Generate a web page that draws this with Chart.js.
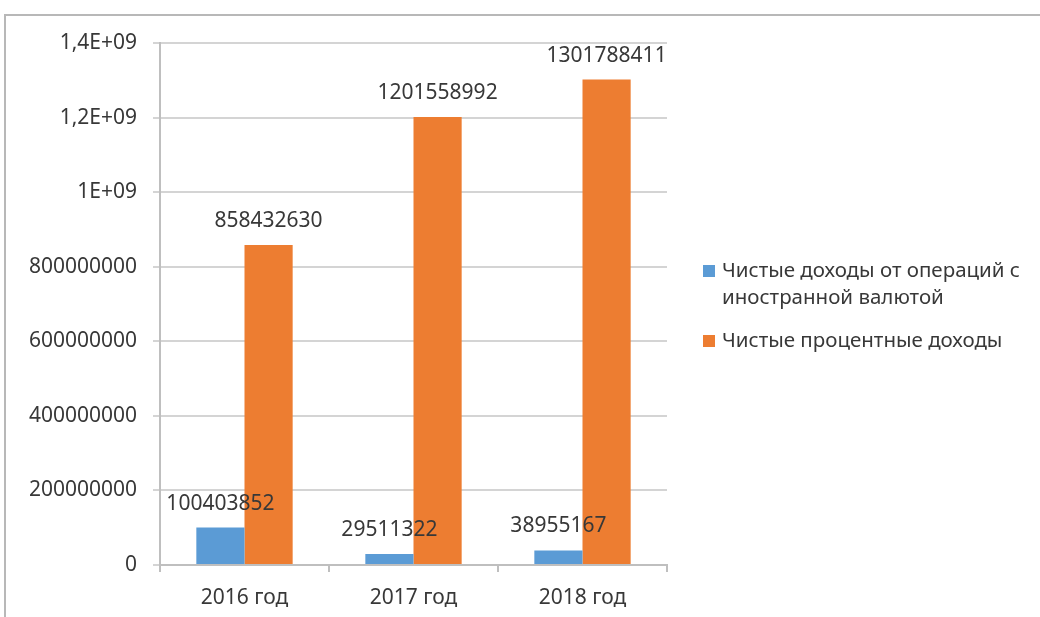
<!DOCTYPE html>
<html><head><meta charset="utf-8">
<script src="https://cdn.jsdelivr.net/npm/chart.js@4"></script>
<style>
html,body{margin:0;padding:0;background:#fff;}
#frame{position:absolute;left:4px;top:14px;width:1040px;height:610px;border-left:2px solid #b8b8b8;border-top:2px solid #b8b8b8;}
#wrap{position:absolute;left:0;top:0;width:1040px;height:617px;}
</style></head>
<body>
<div id="frame"></div>
<div id="wrap"><canvas id="c" width="1040" height="617"></canvas></div>
<script>
const categories = ['2016 год', '2017 год', '2018 год'];
const seriesNames = [['Чистые доходы от операций с', 'иностранной валютой'], ['Чистые процентные доходы']];
const fxIncome = [100403852, 29511322, 38955167];
const interestIncome = [858432630, 1201558992, 1301788411];
const yTickLabels = {0:'0',200000000:'200000000',400000000:'400000000',600000000:'600000000',800000000:'800000000',1000000000:'1E+09',1200000000:'1,2E+09',1400000000:'1,4E+09'};
const colors = ['#5B9BD5', '#ED7D31'];
const FONT = '"Noto Sans", "Open Sans", sans-serif';
const textColor = '#383838';

const valueLabels = {
  id: 'valueLabels',
  afterDatasetsDraw(chart) {
    const ctx = chart.ctx;
    ctx.save();
    ctx.font = '21px ' + FONT;
    ctx.fillStyle = textColor;
    ctx.textAlign = 'center';
    ctx.textBaseline = 'middle';
    chart.data.datasets.forEach((ds, i) => {
      chart.getDatasetMeta(i).data.forEach((bar, j) => {
        ctx.fillText(String(ds.data[j]), bar.x, bar.y - 24);
      });
    });
    ctx.restore();
  }
};

const customLegend = {
  id: 'customLegend',
  afterDraw(chart) {
    const ctx = chart.ctx;
    ctx.save();
    ctx.font = '20.5px ' + FONT;
    ctx.textBaseline = 'middle';
    const x = 703, tx = 722;
    let y = 271;
    seriesNames.forEach((lines, i) => {
      ctx.fillStyle = colors[i];
      ctx.fillRect(x, y - 6, 12, 12);
      ctx.fillStyle = textColor;
      lines.forEach((ln, k) => {
        ctx.fillText(ln, tx, y + k * 27);
      });
      y += lines.length * 27 + 16;
    });
    ctx.restore();
  }
};

new Chart(document.getElementById('c'), {
  type: 'bar',
  data: {
    labels: categories,
    datasets: [
      { label: seriesNames[0].join(' '), data: fxIncome, backgroundColor: colors[0], categoryPercentage: 0.57, barPercentage: 1.0 },
      { label: seriesNames[1].join(' '), data: interestIncome, backgroundColor: colors[1], categoryPercentage: 0.57, barPercentage: 1.0 }
    ]
  },
  options: {
    responsive: false,
    animation: false,
    events: [],
    layout: { padding: { left: 0, right: 373, top: 43, bottom: 0 } },
    plugins: { legend: { display: false }, tooltip: { enabled: false } },
    scales: {
      x: {
        grid: { display: true, drawOnChartArea: false, drawTicks: true, tickLength: 7, color: '#bfbfbf', lineWidth: 2, offset: true },
        border: { display: true, color: '#bfbfbf', width: 2 },
        ticks: { font: { family: FONT, size: 21 }, color: textColor, padding: 13 },
        afterFit(s) { s.height = 52; }
      },
      y: {
        min: 0, max: 1400000000,
        grid: { color: '#d4d4d4', lineWidth: 2, drawTicks: true, tickLength: 7 },
        border: { display: true, color: '#bfbfbf', width: 2 },
        ticks: { stepSize: 200000000, font: { family: FONT, size: 21 }, color: textColor, padding: 16,
          callback: (v) => yTickLabels[v] !== undefined ? yTickLabels[v] : '' },
        afterFit(s) { s.width = 160; }
      }
    }
  },
  plugins: [valueLabels, customLegend]
});
</script>
</body></html>
